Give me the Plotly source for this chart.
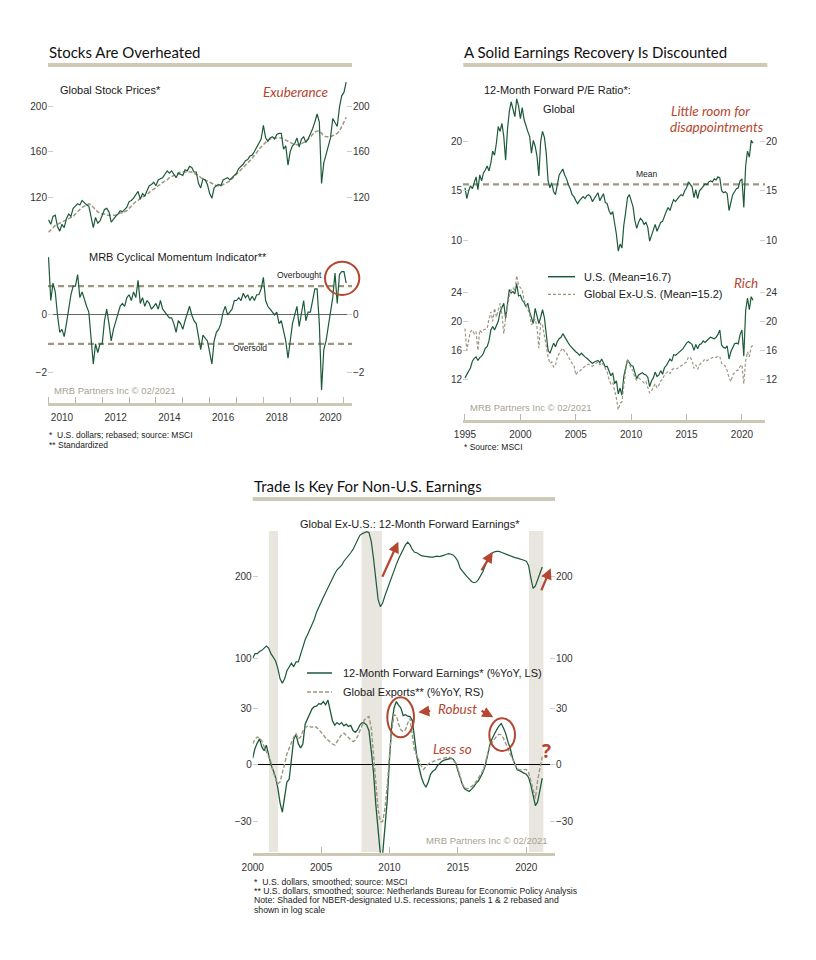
import plotly.graph_objects as go

W, H = 816, 960


def X(p):
    return p / W


def Y(p):
    return 1 - p / H


GREEN = '#1d5a3a'
TAN = '#9d9681'
AXIS = '#cdc7b5'
RED = '#b4472f'
SHADE = '#e8e6df'
TICKC = '#cfcfcf'
TXT = '#1a1a1a'
SANS = 'Liberation Sans, Arial, sans-serif'
HUM = 'Lato, Open Sans, sans-serif'

# ---------------- Panel 1 data (monthly, Jan 2010 - Feb 2021) ----------------
P1_START = 2010.0
p1_price = [
    100, 96, 103, 104, 94, 90, 96, 93, 101, 105, 103, 110,
    112, 114, 113, 117, 115, 113, 112, 101, 93, 102, 97, 99,
    104, 109, 110, 107, 98, 101, 103, 105, 108, 107, 109, 111,
    116, 117, 119, 122, 125, 118, 123, 121, 126, 130, 131, 133,
    130, 135, 136, 137, 140, 143, 141, 143, 140, 137, 141, 140,
    139, 144, 143, 147, 146, 142, 142, 132, 128, 136, 135, 131,
    123, 119, 128, 130, 131, 130, 135, 136, 137, 135, 137, 139,
    141, 145, 147, 149, 152, 153, 156, 157, 160, 164, 167, 171,
    183, 172, 169, 172, 173, 171, 175, 176, 176, 162, 165, 148,
    160, 165, 167, 172, 164, 171, 173, 168, 171, 175, 180, 186,
    193, 186, 132, 150, 158, 166, 172, 189, 186, 182, 199, 209,
    212, 221,
]
p1_trend = [
    89, 91, 93, 95, 96, 97, 98, 99, 100, 101, 102, 103,
    105, 107, 109, 111, 112, 113, 114, 113, 111, 109, 107, 106,
    105, 105, 104, 104, 104, 104, 104, 105, 106, 106, 107, 108,
    110, 112, 114, 116, 117, 119, 120, 121, 122, 124, 126, 127,
    128, 130, 131, 133, 134, 135, 137, 138, 139, 140, 141, 142,
    142, 142, 142, 142, 142, 141, 140, 139, 137, 136, 135, 134,
    133, 132, 131, 130, 130, 130, 131, 132, 133, 134, 136, 138,
    140, 142, 144, 146, 148, 150, 152, 154, 157, 159, 162, 164,
    166, 168, 170, 171, 172, 172, 172, 172, 172, 171, 170, 169,
    168, 167, 166, 166, 166, 167, 168, 169, 171, 173, 175, 177,
    178, 178, 176, 174, 173, 173, 173, 174, 175, 176, 178, 182,
    186, 190,
]
p1_momentum = [
    2.0, 0.5, 1.1, 0.8, 0.0, -0.6, -0.5, -0.75, -0.3, 0.2, 0.7, 1.0,
    1.0, 1.4, 0.6, 0.8, 0.5, 0.3, 0.1, -0.9, -1.7, -1.0, -1.3, -1.0,
    -1.0, -0.2, 0.2, -0.3, -0.9, -0.5, -0.2, 0.1, 0.3, 0.4, 0.3, 0.6,
    0.7, 0.5, 0.8, 0.6, 1.2, 0.4, 0.6, 0.3, 0.5, 0.4, 0.2, 0.3,
    0.4, 0.2, 0.5, 0.2, 0.1, 0.0, -0.1, -0.1, -0.3, -0.6, -0.2, -0.3,
    -0.5, -0.2, 0.1, 0.3, 0.0, -0.2, -0.3, -0.8, -1.2, -0.7, -0.8, -0.9,
    -1.3, -1.7, -0.9, -0.6, -0.5, -0.3, 0.1, 0.3, 0.0, 0.1, 0.2, 0.5,
    0.5, 0.6, 0.5, 0.75, 0.6, 0.7, 0.5, 0.65, 0.5, 0.7, 0.7, 0.9,
    1.3, 0.5, 0.3, 0.2, 0.1, 0.0, 0.1, -0.3, -0.2, -0.6, -0.9, -1.5,
    -0.9, -0.3, 0.0, 0.3, -0.4, 0.1, 0.5, -0.2, 0.1, 0.1, 0.5, 0.9,
    0.9, -0.3, -2.6, -1.2, -0.9, -0.4, 0.1, 0.6, 1.45, 0.4, 1.4, 1.5,
    1.5, 1.1,
]
p1_bands = [1.0, -1.0]          # overbought / oversold
p1_tick_years = list(range(2010, 2022))
p1_label_years = [2010, 2012, 2014, 2016, 2018, 2020]

# ---------------- Panel 2 data (bi-monthly, Jan 1995 - Jan 2021) ----------------
P2_START = 1995.0
p2_global = [
    15.3, 14.2, 15.0, 15.5, 15.2, 15.9,
    16.4, 15.1, 16.6, 16.0, 16.8, 17.1,
    17.5, 17.0, 17.8, 19.0, 18.6, 19.8,
    21.5, 21.0, 21.8, 20.5, 18.1, 21.2,
    23.0, 24.0, 23.2, 22.5, 24.3, 23.6,
    22.3, 23.4, 22.2, 21.5, 21.0, 20.5,
    18.8, 20.1, 19.5, 18.5, 16.5, 20.0,
    21.0, 20.4, 18.8, 16.0, 15.3, 15.8,
    14.9, 14.6, 15.8, 16.6, 16.9, 17.2,
    16.6, 16.2, 15.6, 15.2, 14.6, 14.4,
    14.0, 13.7, 14.0, 14.2, 14.4, 14.2,
    14.5, 14.6, 14.4, 13.9, 14.2, 14.5,
    14.8, 14.0, 14.3, 14.7, 13.8, 13.7,
    13.0, 12.6, 12.9, 11.8, 10.6, 8.9,
    9.6, 9.2, 11.5, 12.8, 14.3, 14.6,
    14.0, 13.4, 12.0, 11.2, 11.8, 12.2,
    12.0, 11.6, 11.8, 11.3, 9.9, 10.5,
    11.0, 11.6, 10.9, 11.3, 11.8, 11.9,
    12.5, 12.9, 13.3, 13.0, 13.6, 14.1,
    13.9, 14.2, 14.4, 14.6, 14.5, 15.0,
    15.3, 15.9, 15.6, 15.4, 14.3, 15.1,
    14.2, 15.0, 15.2, 15.4, 15.7, 15.6,
    15.9, 16.0, 15.9, 16.2, 16.1, 16.4,
    16.3, 15.0, 14.8, 14.9, 14.7, 13.0,
    13.8, 14.6, 14.9, 15.2, 15.3, 16.0,
    16.2, 13.3, 17.5, 19.0, 18.4, 20.1,
    19.8,
]
p2_global_mean = 15.65
p2_us = [
    12.2, 12.7, 13.2, 13.6, 14.5, 14.9,
    15.1, 14.6, 15.0, 15.2, 15.6, 16.3,
    16.5, 17.3, 18.8, 19.3, 18.8, 19.5,
    20.0, 21.3, 22.0, 22.5, 20.4, 22.5,
    24.4, 23.9, 24.1, 23.8, 25.2, 23.5,
    23.6, 22.9, 22.6, 22.0, 22.5, 21.3,
    20.5, 19.7, 21.8, 20.8, 19.7, 20.6,
    21.6, 20.5, 17.9, 16.0, 15.6, 16.3,
    17.0, 16.5, 17.2, 17.6, 17.8, 18.3,
    17.8, 17.4, 17.0, 16.6, 16.3, 16.0,
    15.8, 15.6, 15.3, 15.6, 15.3, 15.1,
    14.9, 14.7, 14.5, 14.2, 14.4, 14.5,
    14.6, 14.3, 14.8, 14.3, 13.7, 13.8,
    13.2, 12.5, 12.9, 11.4, 11.8, 10.0,
    10.8, 9.8, 12.4, 13.6, 14.7, 14.3,
    13.9, 13.8, 12.8, 12.1, 12.6, 12.8,
    12.9, 12.7, 12.6, 12.3, 11.0, 11.8,
    12.2, 13.0, 12.4, 12.6, 13.2, 12.7,
    13.6, 13.9, 14.4, 14.8, 14.5, 15.4,
    15.3, 15.5, 15.8, 15.9, 16.2, 16.6,
    17.0, 17.2, 17.0, 16.8, 16.0, 16.8,
    16.2, 16.8, 16.9, 17.3, 17.1, 17.4,
    17.6, 17.8, 17.7, 17.6, 17.8, 18.2,
    18.8, 16.7, 16.4, 16.3, 16.6, 14.8,
    15.8, 16.4, 16.9, 17.0, 16.9, 18.2,
    18.8, 15.2, 21.5, 23.2, 21.6, 23.4,
    22.9,
]
p2_exus = [
    19.0, 16.0, 17.4, 18.6, 18.8, 18.3,
    18.6, 16.0, 18.8, 18.5, 18.8, 18.9,
    19.0, 20.3, 21.3, 20.0, 21.8, 20.6,
    21.4, 22.5, 21.0, 18.3, 20.5, 22.0,
    23.5, 24.3, 24.6, 24.2, 26.3, 25.0,
    24.6, 24.3, 22.9, 22.3, 21.8, 21.0,
    19.5, 19.9, 20.3, 19.2, 16.3, 19.8,
    19.5, 18.0, 16.5, 15.1, 14.2, 14.4,
    13.7, 13.9, 15.1, 15.6, 16.0, 16.3,
    15.8, 15.6, 15.0, 14.6, 14.2, 14.0,
    12.6, 13.0, 13.1, 13.4, 13.6, 13.8,
    14.0, 14.1, 13.9, 13.8, 14.0, 14.2,
    14.4, 14.0, 14.3, 14.0, 13.4, 13.0,
    12.0, 11.4, 11.6, 10.6, 9.4, 7.8,
    8.7, 8.9, 11.5, 13.2, 14.7, 14.0,
    13.5, 13.2, 12.2, 11.9, 12.2, 12.0,
    11.7, 11.5, 11.7, 11.0, 10.1, 10.4,
    10.9, 11.4, 10.8, 11.2, 11.8, 12.0,
    12.6, 12.9, 13.1, 12.8, 13.3, 13.5,
    13.4, 13.5, 13.7, 13.9, 14.0, 14.2,
    14.4, 15.1, 15.0, 14.6, 13.5, 14.0,
    13.4, 14.0, 14.2, 14.5, 14.8, 14.6,
    14.7, 14.9, 15.0, 15.1, 15.0, 15.2,
    15.1, 14.2, 14.1, 13.8, 13.2, 12.2,
    11.7, 12.6, 12.9, 13.2, 13.3, 13.8,
    14.0, 11.4, 14.6, 15.8, 15.1, 16.5,
    16.7,
]
p2_tick_years = [1995, 2000, 2005, 2010, 2015, 2020]

# ---------------- Panel 3 data (bi-monthly, Jan 2000 - Mar 2021) ----------------
P3_START = 2000.0
p3_level = [
    100, 104, 104, 106, 107, 109,
    111, 109, 104, 101, 98, 92,
    84, 81, 84, 90, 93, 96,
    93, 97, 97, 104, 110, 117,
    122, 127, 133, 139, 148, 155,
    162, 168, 175, 183, 189, 197,
    205, 212, 216, 220, 228, 233,
    238, 245, 252, 262, 273, 284,
    288, 291, 293, 291, 270, 233,
    195, 165, 155, 160, 170, 180,
    189, 199, 210, 222, 233, 243,
    252, 262, 268, 262, 252, 246,
    245, 241, 239, 238, 237, 236,
    236, 236, 237, 238, 237, 238,
    240, 242, 243, 242, 240, 235,
    228, 215, 209, 205, 200, 196,
    192, 190, 191, 195, 201, 209,
    220, 230, 238, 244, 247, 248,
    248, 246, 244, 242, 241, 239,
    237, 235, 234, 233, 232, 230,
    228, 220, 198, 181, 185, 195,
    207, 217,
]
p3_earn = [
    3.6, 8.7, 11.5, 13.8, 9.5, 7.5,
    10.4, 5.5, 0.0, -2.8, -6.5, -12.0,
    -20.0, -24.9, -16.0, -9.0, -7.5, 3.0,
    13.5, 16.0, 11.2, 9.0, 11.0, 21.5,
    24.5, 26.5, 29.5, 30.8, 31.0, 32.3,
    32.0, 33.4, 31.7, 34.2, 29.0, 23.2,
    21.0, 22.3, 21.3, 22.3, 20.6, 21.5,
    20.3, 20.8, 18.1, 17.2, 18.5, 21.0,
    22.3, 22.0, 21.0, 18.0, 7.5, -4.1,
    -21.0, -34.5, -47.0, -47.0, -33.0, -19.0,
    3.0, 21.5, 30.0, 33.4, 31.5, 30.0,
    26.0, 26.5, 25.7, 25.5, 23.5, 14.0,
    4.4, -1.5, -6.5, -9.8, -11.8, -9.0,
    -5.0, -3.3, -2.6, -0.5, 1.0, 1.9,
    2.5, 2.7, 2.9, 3.5, 3.0, 1.0,
    -3.0, -6.5, -10.5, -12.7, -13.5, -14.0,
    -12.8, -11.5, -9.6, -8.5, -6.2, -3.8,
    -0.5, 6.0, 10.5, 13.8, 16.5, 18.5,
    20.5, 21.8, 19.5, 16.5, 12.0, 8.5,
    3.5, 0.0, -2.6, -3.0, -3.8, -4.3,
    -4.9, -6.6, -10.5, -16.3, -21.5, -19.5,
    -12.5, -7.0,
]
p3_exports = [
    11.2, 13.5, 14.7, 14.3, 12.5, 9.5,
    7.0, 4.3, 1.5, -3.8, -7.0, -10.0,
    -9.0, -4.8, 0.5, 5.8, 9.0, 11.5,
    14.7, 16.4, 13.8, 14.7, 17.8, 19.5,
    20.5, 20.2, 19.8, 20.4, 19.8, 18.7,
    17.5, 15.8, 14.2, 13.0, 12.0, 11.0,
    10.4, 12.1, 14.2, 16.0, 16.8, 15.5,
    14.5, 13.2, 12.3, 13.0, 15.0, 18.1,
    21.5, 23.8, 24.9, 25.5, 19.5, 4.0,
    -10.0, -23.5, -30.0, -29.8, -23.0, -11.0,
    5.0, 18.1, 26.5, 26.0, 21.5, 18.5,
    17.5, 18.5, 22.0, 24.5, 15.5, 7.5,
    5.0, 2.2, -0.8, -2.4, -0.9, 0.5,
    1.2, 1.9, 2.3, 2.7, 3.0, 3.5,
    3.7, 4.0, 4.1, 3.6, 2.5, 1.0,
    -2.0, -6.6, -10.0, -12.3, -12.6, -12.2,
    -11.5, -10.5, -8.8, -7.0, -5.0, -3.0,
    1.0, 6.0, 9.5, 11.8, 13.5, 15.2,
    16.2, 15.8, 14.0, 11.5, 8.5, 5.5,
    3.0, 0.0, -2.0, -2.6, -2.7, -2.5,
    -2.4, -4.1, -8.3, -13.8, -17.7, -8.0,
    -0.7, 4.4,
]
p3_recessions = [(2001.2, 2001.85), (2007.95, 2009.45), (2020.2, 2021.25)]
p3_tick_years = [2000, 2005, 2010, 2015, 2020]

# ---------------- axis ranges ----------------
X1_RANGE = [2009.98, 2021.3]
X2_RANGE = [1994.82, 2022.08]
X3_RANGE = [2000.0, 2022.1]

d1 = [P1_START + i / 12 for i in range(len(p1_price))]
d2 = [P2_START + i / 6 for i in range(len(p2_global))]
d3 = [P3_START + i / 6 for i in range(len(p3_level))]

fig = go.Figure()


def line(x, y, xa, ya, color, width, dash=None):
    fig.add_trace(go.Scatter(x=x, y=y, xaxis=xa, yaxis=ya, mode='lines',
                             line=dict(color=color, width=width, dash=dash),
                             hoverinfo='skip', showlegend=False))


# Panel 1
for b in p1_bands:
    line(X1_RANGE, [b, b], 'x', 'y', TAN, 2.2, '6px,4px')
line(d1, p1_momentum, 'x', 'y2', GREEN, 1.2)
line(d1, p1_trend, 'x', 'y3', TAN, 1.5, '4px,2px')
line(d1, p1_price, 'x', 'y4', GREEN, 1.2)

# Panel 2
line(X2_RANGE, [p2_global_mean, p2_global_mean], 'x2', 'y7', TAN, 2.2, '6px,4px')
line(d2, p2_global, 'x2', 'y8', GREEN, 1.2)
line(d2, p2_us, 'x2', 'y5', GREEN, 1.2)
line(d2, p2_exus, 'x2', 'y6', TAN, 1.2, '3px,2px')

# Panel 3
line(d3, p3_level, 'x3', 'y11', GREEN, 1.2)
line(d3, p3_level, 'x3', 'y12', 'rgba(0,0,0,0)', 0.1)
line(d3, p3_earn, 'x3', 'y9', GREEN, 1.3)
line(d3, p3_exports, 'x3', 'y10', TAN, 1.4, '4px,2px')

TICKFONT = dict(family=SANS, size=10, color='#333')


def yax(top, bottom, rng, vals, anchor, side='left', overlay=None, log=False, zero=None):
    d = dict(domain=[Y(bottom), Y(top)], range=rng, tickmode='array', tickvals=vals,
             anchor=anchor, side=side, ticks='inside', ticklen=5, tickwidth=1,
             tickcolor=TICKC, showgrid=False, zeroline=False, showline=False,
             tickfont=TICKFONT, fixedrange=True, automargin=False)
    if overlay:
        d['overlaying'] = overlay
    if log:
        d['type'] = 'log'
    if zero:
        d.update(zeroline=True, zerolinecolor=zero, zerolinewidth=1)
    return d


def xax(left, right, rng, anchor, vals, text, major_ticks=True, minor_vals=None):
    d = dict(domain=[X(left), X(right)], range=rng, anchor=anchor, tickmode='array',
             tickvals=vals, ticktext=text, showline=True, linecolor=AXIS, linewidth=3,
             showgrid=False, zeroline=False, tickfont=TICKFONT, fixedrange=True,
             ticklabelstandoff=3, automargin=False)
    if major_ticks:
        d.update(ticks='inside', ticklen=6, tickcolor='#bdb7a4', tickwidth=1)
    else:
        d.update(ticks='')
    if minor_vals is not None:
        d['minor'] = dict(tickmode='array', tickvals=minor_vals, ticks='inside', ticklen=6,
                          tickcolor='#bdb7a4', tickwidth=1, showgrid=False)
    return d


layout = dict(
    width=W, height=H, margin=dict(l=0, r=0, t=0, b=0, pad=0), autosize=False,
    paper_bgcolor='white', plot_bgcolor='rgba(0,0,0,0)', showlegend=False,
    xaxis=xax(48, 352, X1_RANGE, 'y', [v + 0.5 for v in p1_label_years],
              [str(v) for v in p1_label_years], major_ticks=False, minor_vals=p1_tick_years),
    xaxis2=xax(463, 765, X2_RANGE, 'y5', p2_tick_years, [str(v) for v in p2_tick_years]),
    xaxis3=xax(252.7, 555, X3_RANGE, 'y9', p3_tick_years, [str(v) for v in p3_tick_years]),
    yaxis=yax(250, 403, [-3.05, 2.25], [-2, 0], 'x', zero='#666666'),
    yaxis2=yax(250, 403, [-3.05, 2.25], [-2, 0], 'x', side='right', overlay='y'),
    yaxis3=yax(75, 235, [86.6, 227.3], [120, 160, 200], 'x'),
    yaxis4=yax(75, 235, [86.6, 227.3], [120, 160, 200], 'x', side='right', overlay='y3'),
    yaxis5=yax(270, 419.5, [6.46, 27.08], [12, 16, 20, 24], 'x2'),
    yaxis6=yax(270, 419.5, [6.46, 27.08], [12, 16, 20, 24], 'x2', side='right', overlay='y5'),
    yaxis7=yax(80, 255, [8.5, 26.2], [10, 15, 20], 'x2'),
    yaxis8=yax(80, 255, [8.5, 26.2], [10, 15, 20], 'x2', side='right', overlay='y7'),
    yaxis9=yax(690, 852.7, [-46.3, 39.5], [-30, 0, 30], 'x3', zero='#000000'),
    yaxis10=yax(690, 852.7, [-46.3, 39.5], [-30, 0, 30], 'x3', side='right', overlay='y9'),
    yaxis11=yax(531, 690, [1.8832, 2.4694], [100, 200], 'x3', log=True),
    yaxis12=yax(531, 690, [1.8832, 2.4694], [100, 200], 'x3', side='right', overlay='y11', log=True),
)

ann = []
shapes = []


def note(text, x, y, size=11, color=TXT, family=SANS, xanchor='left', weight=None):
    f = dict(size=size, color=color, family=family)
    if weight:
        f['weight'] = weight
    ann.append(dict(text=text, x=X(x), y=Y(y), xref='paper', yref='paper', showarrow=False,
                    xanchor=xanchor, yanchor='middle', font=f, borderpad=0))


def arrow(xt, yt, xh, yh):
    ann.append(dict(text='', x=X(xh), y=Y(yh), xref='paper', yref='paper', showarrow=True,
                    ax=xt - xh, ay=yt - yh, axref='pixel', ayref='pixel', arrowhead=2,
                    arrowsize=1, arrowwidth=2.2, arrowcolor=RED, standoff=0, startstandoff=0))


def rect(x0, y0, x1, y1, color):
    shapes.append(dict(type='rect', xref='paper', yref='paper', x0=X(x0), x1=X(x1),
                       y0=Y(y1), y1=Y(y0), fillcolor=color, line=dict(width=0), layer='below'))


def oval(x0, y0, x1, y1):
    shapes.append(dict(type='circle', xref='paper', yref='paper', x0=X(x0), x1=X(x1),
                       y0=Y(y1), y1=Y(y0), line=dict(color=RED, width=2)))


def seg(x0, x1, y, color, dash=None, width=1.5):
    shapes.append(dict(type='line', xref='paper', yref='paper', x0=X(x0), x1=X(x1),
                       y0=Y(y), y1=Y(y), line=dict(color=color, width=width, dash=dash)))


# title bars
rect(48, 63, 352, 67, '#cfc9b8')
rect(463.3, 63, 767.3, 67, '#cfc9b8')
rect(252.7, 497, 555, 501, '#cfc9b8')

# recession shading (panel 3)
for a, b in p3_recessions:
    shapes.append(dict(type='rect', xref='x3', yref='paper', x0=a, x1=b, y0=Y(852), y1=Y(531),
                       fillcolor=SHADE, line=dict(width=0), layer='below'))

MRB = '#a8a292'

# Panel 1 texts
note('Stocks Are Overheated', 47.5, 52, size=15, family=HUM, color='#111')
note('Global Stock Prices*', 59, 90, size=11)
note('<i>Exuberance</i>', 262, 92, size=13.5, color=RED, family=HUM)
note('MRB Cyclical Momentum Indicator**', 88, 257, size=11)
note('Overbought', 276, 275, size=8.5)
note('Oversold', 232, 348, size=8.5)
note('MRB Partners Inc © 02/2021', 53, 391, size=9.5, color=MRB)
note('*  U.S. dollars; rebased; source: MSCI', 48, 435, size=8.5)
note('** Standardized', 48, 444.7, size=8.5)
oval(325, 261.7, 359.3, 295)

# Panel 2 texts
note('A Solid Earnings Recovery Is Discounted', 463, 52, size=15, family=HUM, color='#111')
note('12-Month Forward P/E Ratio*:', 483, 90, size=11)
note('Global', 542, 109, size=11)
note('<i>Little room for</i>', 669.5, 111, size=13.5, color=RED, family=HUM)
note('<i>disappointments</i>', 668.5, 127, size=13.5, color=RED, family=HUM)
note('Mean', 635, 174, size=8.5)
seg(548, 575, 276.7, GREEN)
note('U.S. (Mean=16.7)', 583, 276.7, size=11)
seg(548, 575, 294.3, TAN, dash='3px,2px', width=1.3)
note('Global Ex-U.S. (Mean=15.2)', 583, 294.3, size=11)
note('<i>Rich</i>', 733, 283, size=13.5, color=RED, family=HUM)
note('MRB Partners Inc © 02/2021', 469, 407, size=9.5, color=MRB)
note('* Source: MSCI', 463, 447, size=8.5)

# Panel 3 texts
note('Trade Is Key For Non-U.S. Earnings', 252.5, 485.5, size=15, family=HUM, color='#111')
note('Global Ex-U.S.: 12-Month Forward Earnings*', 410.4, 524, size=11, xanchor='center')
seg(307, 332, 673, GREEN)
note('12-Month Forward Earnings* (%YoY, LS)', 341.7, 673, size=11)
seg(307, 332, 692, TAN, dash='4px,2px', width=1.4)
note('Global Exports** (%YoY, RS)', 341.7, 692, size=11)
note('<i>Robust</i>', 436.7, 709, size=13.5, color=RED, family=HUM)
note('<i>Less so</i>', 431.7, 749.3, size=13.5, color=RED, family=HUM)
note('?', 546, 750.7, size=19, color=RED, family='Open Sans, Lato, sans-serif',
     xanchor='center', weight=700)
note('MRB Partners Inc © 02/2021', 549, 840.7, size=9.5, color=MRB, xanchor='right')
note('*  U.S. dollars, smoothed; source: MSCI', 252.7, 881.7, size=8.7)
note('** U.S. dollars, smoothed; source: Netherlands Bureau for Economic Policy Analysis',
     252.7, 890.7, size=8.7)
note('Note: Shaded for NBER-designated U.S. recessions; panels 1 &amp; 2 rebased and',
     252.7, 900, size=8.7)
note('shown in log scale', 252.7, 910, size=8.7)
oval(387.3, 697.3, 414, 737.3)
oval(489.3, 718.3, 515, 751)

arrow(381.7, 578.3, 398.3, 541.7)
arrow(480.7, 571.7, 492.7, 551.7)
arrow(540.7, 591.7, 550.7, 568.3)
arrow(431.7, 710.7, 418.3, 712.3)
arrow(480, 710, 493.3, 717.3)

layout['annotations'] = ann
layout['shapes'] = shapes
fig.update_layout(**layout)
fig.write_html(
    'out.html',
    config={'responsive': False, 'displayModeBar': False},
    post_script="document.body.style.margin='0';document.body.style.padding='0';"
                "document.documentElement.style.overflow='hidden';",
)
